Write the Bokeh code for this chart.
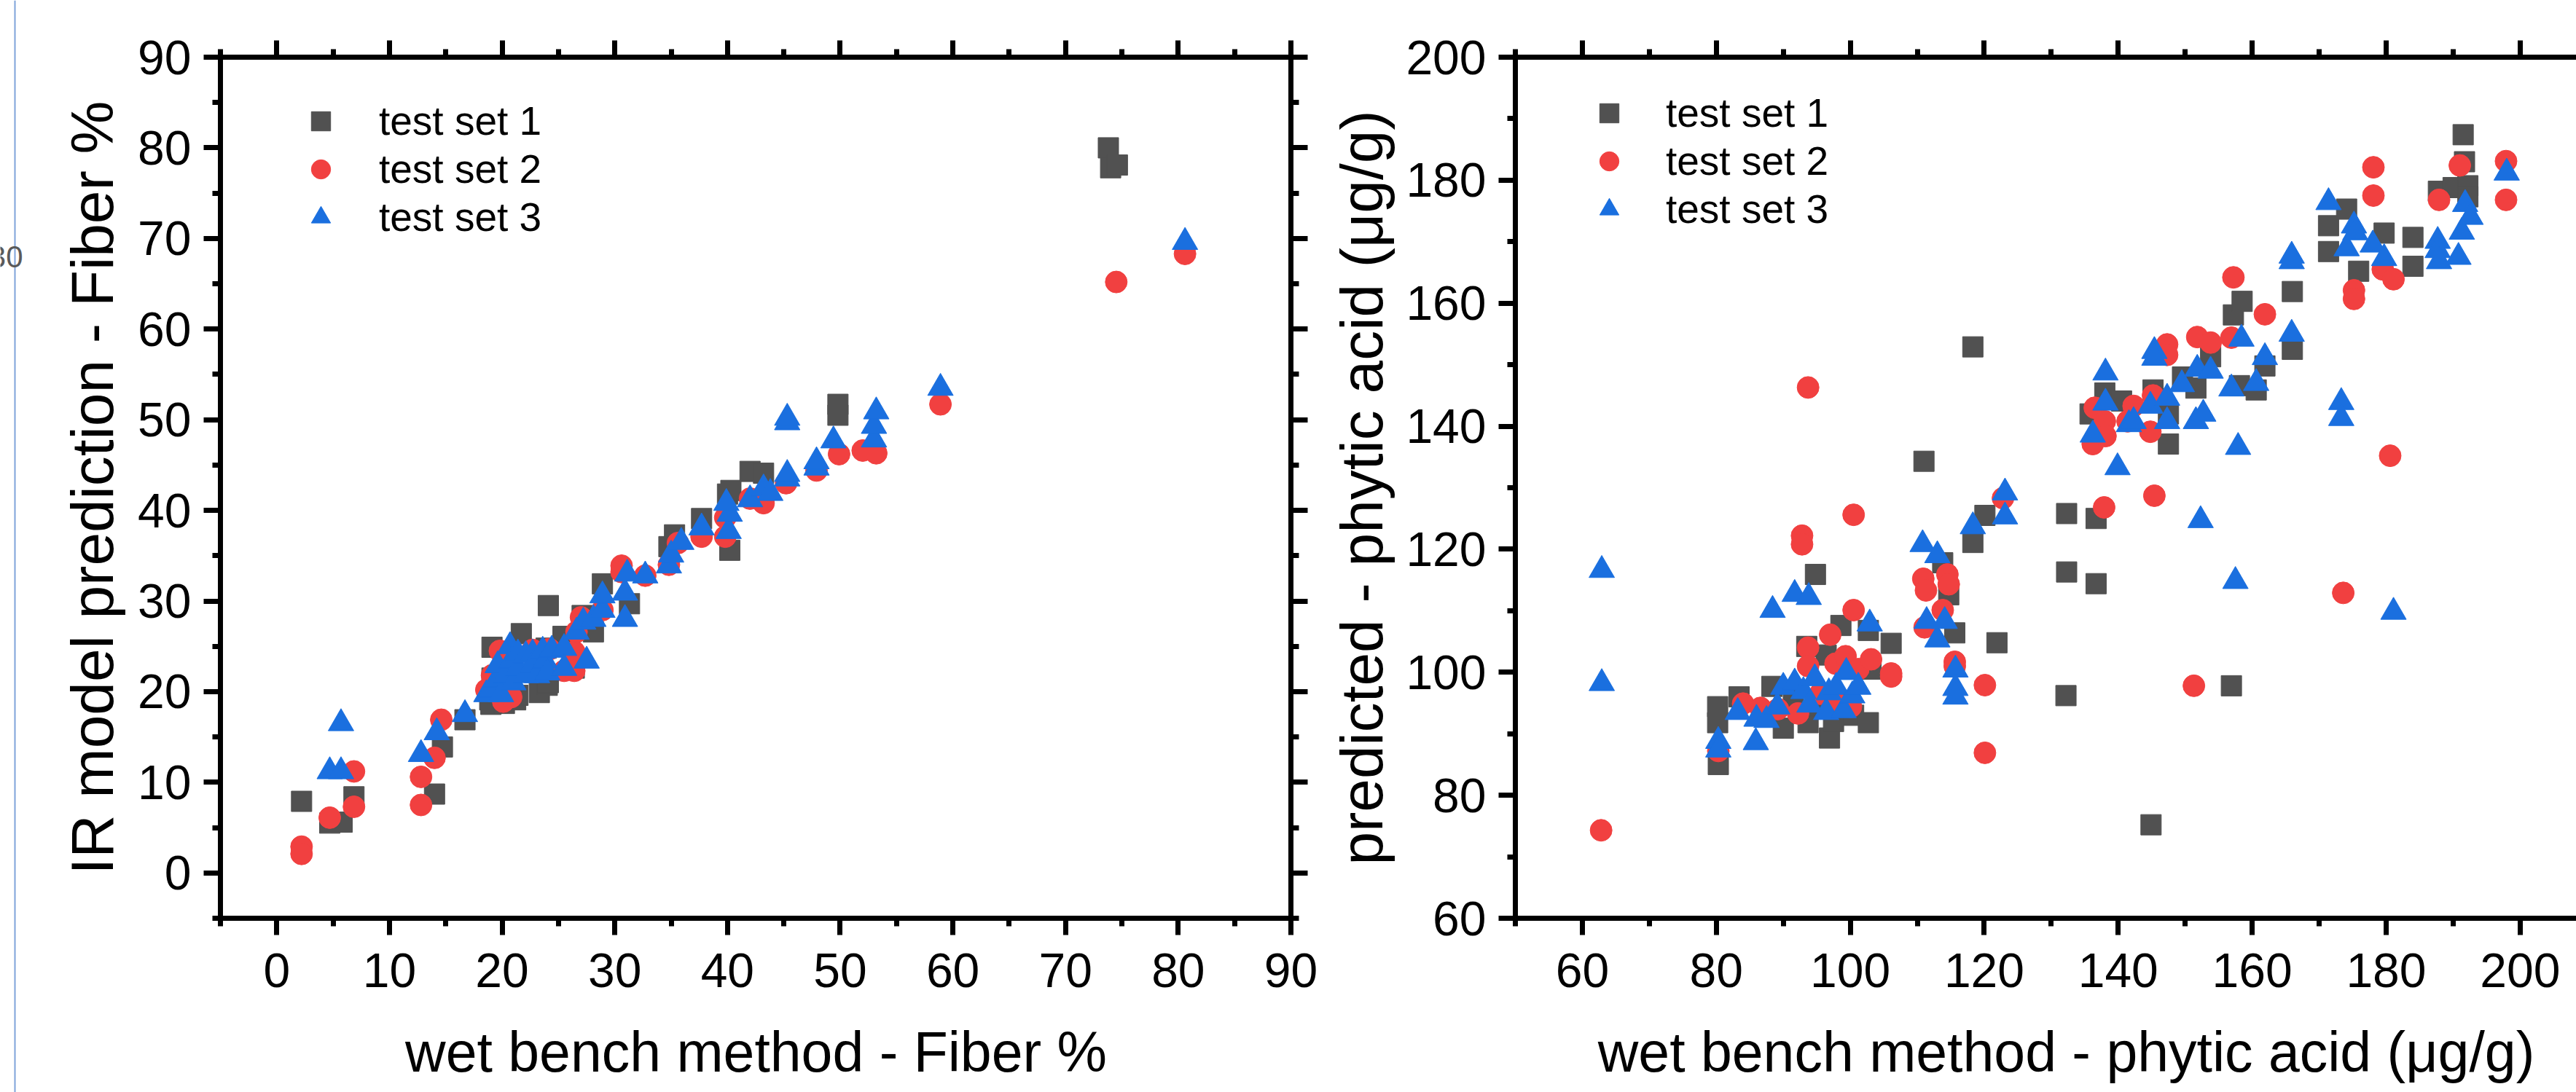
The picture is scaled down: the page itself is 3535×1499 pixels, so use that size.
from bokeh.plotting import figure
from bokeh.layouts import row, column
from bokeh.models import (Legend, LegendItem, LinearAxis, SingleIntervalTicker, Range1d,
                          Span, Label, CustomJSTickFormatter)
from bokeh.embed import file_html
from bokeh.resources import INLINE

# ---------------- data: Fiber % ----------------
fiber_wet_1 = [2.2, 4.7, 5.8, 6.85, 14.0, 14.7, 16.7, 18.9, 19.0, 19.1, 19.1, 20.2, 21.2, 21.4, 21.7,
               23.3, 23.9, 24.0, 24.1, 24.1, 25.4, 26.4, 27.1, 28.1, 28.9, 31.3, 34.8, 35.3, 37.7,
               40.0, 40.3, 40.2, 42.0, 43.2, 49.8, 49.8, 73.8, 74.0, 74.6]
fiber_ir_1 = [7.9, 5.5, 5.6, 8.4, 8.7, 13.9, 16.9, 19.1, 18.6, 21.5, 24.9, 18.7, 19.1, 19.6, 26.4,
              19.9, 24.8, 20.7, 21.0, 29.5, 26.1, 22.6, 28.4, 26.6, 31.9, 29.7, 36.0, 37.3, 39.1,
              41.8, 42.2, 35.6, 44.3, 44.1, 51.7, 50.5, 80.0, 77.8, 78.1]

fiber_wet_2 = [2.2, 2.2, 4.7, 6.85, 6.85, 12.8, 12.8, 14.0, 14.6, 18.6, 19.1, 19.8, 20.1, 20.8,
               22.7, 24.2, 25.5, 26.4, 26.4, 26.6, 27.0, 28.9, 30.6, 30.6, 32.7, 34.8, 35.6, 37.7,
               39.8, 39.8, 42.0, 43.2, 45.2, 47.9, 49.9, 52.0, 53.2, 58.9, 74.5, 80.6]
fiber_ir_2 = [2.9, 2.1, 6.1, 7.3, 11.2, 7.5, 10.6, 12.7, 16.9, 20.2, 21.8, 24.5, 18.9, 19.4,
              24.6, 24.7, 22.3, 24.4, 22.3, 26.6, 28.2, 29.0, 33.9, 33.2, 32.8, 34.0, 36.4, 37.1,
              37.1, 39.2, 41.3, 40.8, 43.0, 44.4, 46.2, 46.6, 46.3, 51.7, 65.2, 68.3]

fiber_wet_3 = [4.7, 5.7, 5.7, 12.8, 14.2, 16.7, 18.6, 19.0, 19.5, 19.6, 19.9, 20.3, 20.7, 20.8,
               21.0, 21.4, 21.4, 22.1, 22.1, 22.7, 22.7, 23.1, 23.6, 23.8, 24.0, 24.4, 25.5, 25.5,
               26.6, 27.2, 27.5, 28.1, 28.9, 28.9, 30.9, 30.9, 31.1, 32.7, 34.8, 35.0, 35.9, 37.7,
               40.1, 40.2, 39.9, 42.0, 43.2, 43.8, 45.3, 45.3, 45.3, 45.3, 47.9, 47.9, 49.4, 53.0,
               53.0, 53.2, 58.9, 80.6]
fiber_ir_3 = [11.2, 11.2, 16.5, 13.1, 15.5, 17.5, 19.7, 20.2, 21.3, 22.9, 19.7, 21.8, 25.0, 23.4,
              21.0, 22.6, 24.2, 24.0, 21.8, 24.2, 22.9, 21.8, 24.5, 23.4, 22.1, 24.6, 24.8, 22.6,
              26.6, 27.7, 23.4, 28.0, 29.0, 30.6, 30.9, 28.0, 33.0, 32.8, 33.9, 35.1, 36.5, 38.1,
              37.7, 39.6, 40.8, 41.2, 42.4, 41.9, 43.5, 44.0, 49.7, 50.2, 44.7, 45.4, 47.7, 47.8,
              49.3, 50.9, 53.5, 69.6]

# ---------------- data: phytic acid (ug/g) ----------------
phy_wet_1 = [80.2, 80.2, 80.3, 83.4, 88.3, 90.0, 91.5, 93.5, 93.7, 94.8, 95.0, 96.4, 96.9, 97.5,
             98.6, 99.0, 100.5, 102.7, 102.7, 103.1, 106.1, 111.0, 113.8, 114.7, 115.6, 118.3,
             118.3, 120.1, 121.9, 132.2, 132.3, 132.3, 135.8, 136.7, 136.7, 138.0, 140.5, 144.9,
             145.2, 147.5, 147.5, 149.6, 151.6, 153.8, 156.9, 157.2, 158.1, 158.5, 160.6, 161.9,
             166.0, 166.0, 171.4, 171.4, 174.1, 175.9, 179.7, 184.0, 184.0, 187.8, 190.0, 191.5,
             191.7, 192.2, 192.2]
phy_pred_1 = [94.4, 91.8, 85.0, 96.0, 97.7, 90.9, 96.0, 104.2, 91.8, 115.9, 94.5, 102.8, 89.3, 92.0,
              107.6, 95.0, 93.0, 91.8, 106.8, 100.5, 104.7, 134.3, 117.8, 112.6, 106.4, 121.1,
              152.9, 125.5, 104.8, 96.2, 125.8, 116.3, 142.0, 125.0, 114.4, 145.4, 144.1, 75.2,
              145.9, 137.1, 142.0, 148.0, 146.2, 151.3, 97.8, 158.1, 146.6, 160.3, 145.9, 149.8,
              161.9, 152.5, 172.6, 168.4, 175.3, 165.2, 171.4, 170.7, 166.0, 178.2, 178.8, 187.4,
              183.0, 179.1, 177.3]

phy_wet_2 = [62.8, 80.3, 84.0, 86.6, 89.2, 92.2, 92.8, 92.8, 93.7, 93.7, 93.7, 95.5, 97.0, 97.5,
             97.8, 99.3, 100.1, 100.5, 100.5, 101.2, 103.1, 106.1, 106.1, 110.9, 111.3, 111.1,
             113.8, 114.5, 114.7, 115.6, 115.6, 120.1, 120.1, 122.8, 136.2, 136.5, 137.9, 138.0,
             138.1, 141.4, 142.3, 144.8, 145.2, 145.4, 147.3, 147.3, 151.3, 151.8, 153.8, 156.9,
             157.2, 161.9, 173.6, 175.2, 175.2, 178.1, 178.1, 179.5, 180.6, 181.1, 187.9, 191.0,
             197.9, 197.9]
phy_pred_2 = [74.3, 87.2, 94.9, 94.2, 94.0, 93.3, 122.2, 120.8, 146.3, 104.0, 101.0, 96.5, 106.1,
              95.5, 101.4, 102.6, 94.4, 125.6, 110.1, 100.5, 102.1, 99.8, 99.3, 115.2, 113.3, 107.3,
              110.1, 115.9, 114.3, 101.7, 101.0, 97.9, 86.9, 128.3, 137.1, 143.0, 126.8, 140.8,
              138.4, 140.8, 143.3, 139.1, 145.0, 128.7, 153.3, 151.6, 97.8, 154.5, 153.6, 154.4,
              164.2, 158.2, 112.9, 162.1, 160.7, 182.1, 177.5, 165.5, 135.2, 163.9, 176.8, 182.4,
              183.1, 176.8]

phy_wet_3 = [62.9, 62.9, 80.3, 80.3, 83.2, 85.9, 86.0, 87.5, 88.4, 91.7, 93.8, 89.1, 90.0, 91.7,
             93.0, 93.9, 94.7, 96.4, 96.8, 97.9, 99.0, 99.4, 100.3, 101.2, 102.9, 110.8, 111.4,
             113.0, 113.0, 114.1, 115.7, 115.7, 115.7, 118.3, 123.1, 123.1, 136.2, 138.1, 138.1,
             139.9, 141.6, 142.3, 144.8, 145.4, 145.4, 147.3, 147.3, 149.5, 151.6, 151.8, 152.3,
             152.7, 153.8, 156.9, 157.5, 157.9, 158.4, 160.6, 161.9, 165.9, 165.9, 165.9, 171.4,
             173.3, 173.3, 174.1, 175.2, 175.4, 178.0, 179.7, 181.1, 187.7, 187.7, 187.9, 190.8,
             191.3, 191.8, 192.6, 198.0]
phy_pred_3 = [116.6, 98.2, 88.8, 87.4, 93.5, 88.6, 92.4, 92.2, 110.1, 112.7, 112.2, 94.4, 97.6, 98.3,
              96.9, 94.7, 99.0, 93.5, 96.7, 97.6, 93.8, 100.0, 96.2, 97.6, 107.9, 120.8, 108.3,
              119.0, 105.3, 108.3, 100.4, 97.4, 96.0, 123.7, 129.2, 125.3, 138.6, 148.7, 143.8,
              133.3, 140.3, 140.8, 143.3, 152.2, 151.1, 144.6, 140.8, 146.8, 140.8, 149.3, 124.7,
              142.0, 149.0, 146.1, 114.8, 136.6, 154.2, 147.0, 151.2, 167.7, 166.8, 155.0, 176.4,
              143.9, 141.3, 168.9, 172.6, 171.5, 169.5, 167.3, 109.8, 170.1, 168.6, 166.8, 167.5,
              171.6, 176.1, 174.0, 181.2]

series_labels = ["test set 1", "test set 2", "test set 3"]
fiber_xlabel = "wet bench method - Fiber %"
fiber_ylabel = "IR model prediction - Fiber %"
phy_xlabel = "wet bench method - phytic acid (\u03bcg/g)"
phy_ylabel = "predicted - phytic acid (\u03bcg/g)"

FONT = "Liberation Sans"
XTITLE_SIZE = "77px"
YTITLE_SIZE = "82px"
COLORS = ["#515151", "#F14040", "#1A6FDF"]
MARKERS = ["square", "circle", "triangle"]
SIZES = [28, 30, 35]
H = 1499          # whole page height
HP = 1400         # plot row height
HL = H - HP       # strip holding the x-axis titles
W1, W2 = 1775, 1720


def make_axis(interval, labels=True, standoff=12, title=None, title_standoff=14):
    ax = LinearAxis(ticker=SingleIntervalTicker(interval=interval, num_minor_ticks=2))
    ax.axis_line_width = 7
    ax.axis_line_color = "black"
    ax.major_tick_line_width = 7
    ax.minor_tick_line_width = 7
    ax.major_tick_line_color = "black"
    ax.minor_tick_line_color = "black"
    ax.major_tick_out = 23
    ax.major_tick_in = 0
    ax.minor_tick_out = 11
    ax.minor_tick_in = 0
    ax.major_label_text_font = FONT
    ax.major_label_text_color = "black"
    if labels:
        ax.major_label_text_font_size = "66px"
        ax.major_label_standoff = standoff
    else:
        ax.formatter = CustomJSTickFormatter(code="return ''")
        ax.major_label_text_font_size = "1px"
        ax.major_label_standoff = 0
    if title:
        ax.axis_label = title
        ax.axis_label_text_font = FONT
        ax.axis_label_text_font_size = YTITLE_SIZE
        ax.axis_label_text_font_style = "normal"
        ax.axis_label_text_color = "black"
        ax.axis_label_standoff = title_standoff
    return ax


def add_series(p, xs_list, ys_list):
    rs = []
    for xs, ys, c, m, s in zip(xs_list, ys_list, COLORS, MARKERS, SIZES):
        r = p.scatter(x=xs, y=ys, marker=m, size=s, fill_color=c, line_color=c, line_width=1)
        rs.append(r)
    return rs


def add_legend(p, rs, loc, standoff):
    items = [LegendItem(label=l, renderers=[r]) for l, r in zip(series_labels, rs)]
    lg = Legend(items=items, location=loc, orientation="vertical", padding=0, margin=0,
                spacing=0, glyph_width=80, glyph_height=66, label_height=66,
                label_standoff=standoff, label_text_font=FONT, label_text_font_size="55px",
                label_text_color="black", border_line_color=None, background_fill_alpha=0)
    p.add_layout(lg, "center")


def title_strip(width, text, cx):
    q = figure(width=width, height=HL, x_axis_type=None, y_axis_type=None, output_backend="svg",
               toolbar_location=None, min_border=0, outline_line_color=None,
               x_range=Range1d(0, width), y_range=Range1d(0, HL))
    q.add_layout(Label(x=cx, y=56, text=text, text_align="center",
                       text_baseline="middle", text_font=FONT, text_font_size=XTITLE_SIZE,
                       text_color="black"))
    return q


# thin strip at far left (edge of a neighbouring window in the screenshot)
p0 = figure(width=40, height=H, x_axis_type=None, y_axis_type=None, output_backend="svg",
            toolbar_location=None, min_border=0, outline_line_color=None,
            x_range=Range1d(0, 40), y_range=Range1d(0, H))
p0.add_layout(Span(location=20, dimension="height", line_color="#7fa3d9", line_width=2))
p0.add_layout(Label(x=31, y=H - 352, text="30", text_align="right", text_baseline="middle",
                    text_font=FONT, text_font_size="42px", text_color="#5a5a5a"))

# ---------------- left: fiber ----------------
p1 = figure(width=W1, height=HP, x_range=Range1d(-5, 90), y_range=Range1d(-5, 90),
            x_axis_type=None, y_axis_type=None, output_backend="svg", toolbar_location=None,
            min_border_left=262, min_border_right=44, min_border_top=78, min_border_bottom=140,
            outline_line_color="black", outline_line_width=7)
p1.add_layout(make_axis(10, True, 25), "below")
p1.add_layout(make_axis(10, True, 17, fiber_ylabel, 14), "left")
p1.add_layout(make_axis(10, False), "above")
p1.add_layout(make_axis(10, False), "right")
rs1 = add_series(p1, [fiber_wet_1, fiber_wet_2, fiber_wet_3], [fiber_ir_1, fiber_ir_2, fiber_ir_3])
add_legend(p1, rs1, (98, 929), 40)

# ---------------- right: phytic acid ----------------
p2 = figure(width=W2, height=HP, x_range=Range1d(50, 208.4), y_range=Range1d(60, 200),
            x_axis_type=None, y_axis_type=None, output_backend="svg", toolbar_location=None,
            min_border_left=264, min_border_right=0, min_border_top=78, min_border_bottom=140,
            outline_line_color=None)
p2.add_layout(make_axis(20, True, 25), "below")
p2.add_layout(make_axis(20, True, 17, phy_ylabel, 12), "left")
p2.add_layout(make_axis(20, False), "above")
rs2 = add_series(p2, [phy_wet_1, phy_wet_2, phy_wet_3], [phy_pred_1, phy_pred_2, phy_pred_3])
add_legend(p2, rs2, (89, 940), 38)

q1 = title_strip(W1, fiber_xlabel, 997)
q2 = title_strip(W2, phy_xlabel, 1020)

for p in (p0, p1, p2, q1, q2):
    p.background_fill_color = "white"
    p.border_fill_color = "white"

layout = row(p0, column(row(p1, p2), row(q1, q2)))
open("out.html", "w").write(file_html(layout, INLINE))
